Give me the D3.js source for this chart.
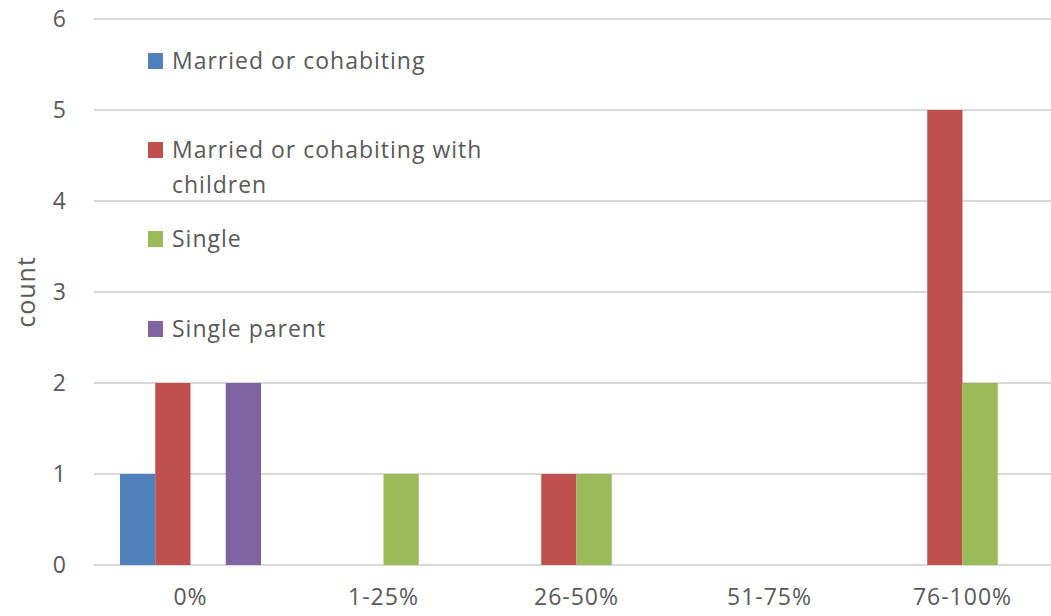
<!DOCTYPE html>
<html>
<head>
    <meta charset="UTF-8">
    <title>count by share</title>
    <script src="https://d3js.org/d3.v7.min.js"></script>
    <style type="text/css">
        body { margin: 0; background: #fff; }
        text { font-family: "Open Sans", "Noto Sans", sans-serif; fill: #595959; }
        .lbl { font-size: 23px; letter-spacing: 1px; }
    </style>
</head>
<body>
    <svg id="chart"></svg>

    <script>
        // the chart data
        const categories = ["0%", "1-25%", "26-50%", "51-75%", "76-100%"];
        const series_names = ["Married or cohabiting", "Married or cohabiting with children", "Single", "Single parent"];
        const married = [1, 0, 0, 0, 0];
        const married_children = [2, 0, 1, 0, 5];
        const single = [0, 1, 1, 0, 2];
        const single_parent = [2, 0, 0, 0, 0];
        const y_ticks = [0, 1, 2, 3, 4, 5, 6];

        const colors = ["#4f81bd", "#c0504d", "#9bbb59", "#8064a2"];
        const all_values = [married, married_children, single, single_parent];

        const WIDTH = 1051;
        const HEIGHT = 616;
        const margins = {top: 19, bottom: 51, left: 94};
        const STEP = 193;

        const svg = d3.select("#chart")
          .attr("width", WIDTH)
          .attr("height", HEIGHT);

        const x0 = d3.scaleBand()
          .domain(categories)
          .range([margins.left, margins.left + STEP * categories.length]);

        // bars sit in the middle of each band
        const x1 = d3.scaleBand()
          .domain(series_names)
          .range([26, x0.bandwidth() - 26]);

        const y = d3.scaleLinear()
          .domain([0, 6])
          .range([HEIGHT - margins.bottom, margins.top]);

        // gridlines
        svg.append("g")
          .selectAll("line").data(y_ticks)
          .enter().append("line")
          .attr("x1", margins.left)
          .attr("x2", WIDTH)
          .attr("y1", (d) => y(d))
          .attr("y2", (d) => y(d))
          .style("stroke", "#d9d9d9")
          .style("stroke-width", 2);

        // y axis tick labels
        const y_axis = svg.append("g")
          .attr("transform", "translate(67,0)")
          .call(d3.axisLeft(y).tickValues(y_ticks).tickFormat(d3.format("d")).tickSize(0).tickPadding(0));
        y_axis.select(".domain").remove();
        y_axis.selectAll("text")
          .attr("class", "lbl")
          .style("fill", "#595959");

        // x axis labels
        const x_axis = svg.append("g")
          .attr("transform", `translate(0, ${HEIGHT - margins.bottom})`)
          .call(d3.axisBottom(x0).tickSize(0).tickPadding(24));
        x_axis.select(".domain").remove();
        x_axis.selectAll("text")
          .attr("class", "lbl")
          .style("fill", "#595959");

        svg.append("text")
          .attr("transform", `translate(35, ${y(3)}) rotate(-90)`)
          .attr("class", "lbl")
          .style("text-anchor", "middle")
          .style("font-size", "25px")
          .text("count");

        // bars, one group per category
        const table = categories.map((c, i) => ({
          cat: c,
          vals: series_names.map((s, j) => ({name: s, value: all_values[j][i], color: colors[j]}))
        }));

        const groups = svg.append("g")
          .selectAll("g").data(table)
          .enter().append("g")
          .attr("transform", (d) => `translate(${x0(d.cat)},0)`);

        groups.selectAll("rect").data((d) => d.vals.filter((v) => v.value > 0))
          .enter().append("rect")
          .attr("x", (d) => x1(d.name))
          .attr("y", (d) => y(d.value))
          .attr("width", x1.bandwidth())
          .attr("height", (d) => y(0) - y(d.value))
          .style("fill", (d) => d.color);

        //---------Legend-----------
        const legend_y = [61, 150, 239, 329];
        const legend_lines = [["Married or cohabiting"], ["Married or cohabiting with", "children"], ["Single"], ["Single parent"]];

        const legend = svg.append("g")
          .selectAll("g").data(series_names)
          .enter().append("g")
          .attr("transform", (d, i) => `translate(148, ${legend_y[i]})`);

        legend.append("rect")
          .attr("x", 0)
          .attr("y", -8)
          .attr("width", 15)
          .attr("height", 16)
          .style("fill", (d, i) => colors[i]);

        legend.append("text")
          .attr("class", "lbl")
          .attr("x", 24)
          .attr("y", 0)
          .selectAll("tspan").data((d, i) => legend_lines[i])
          .enter().append("tspan")
          .attr("x", 24)
          .attr("dy", (d, i) => i == 0 ? "0.35em" : "35px")
          .text((d) => d);
    </script>
</body>
</html>
